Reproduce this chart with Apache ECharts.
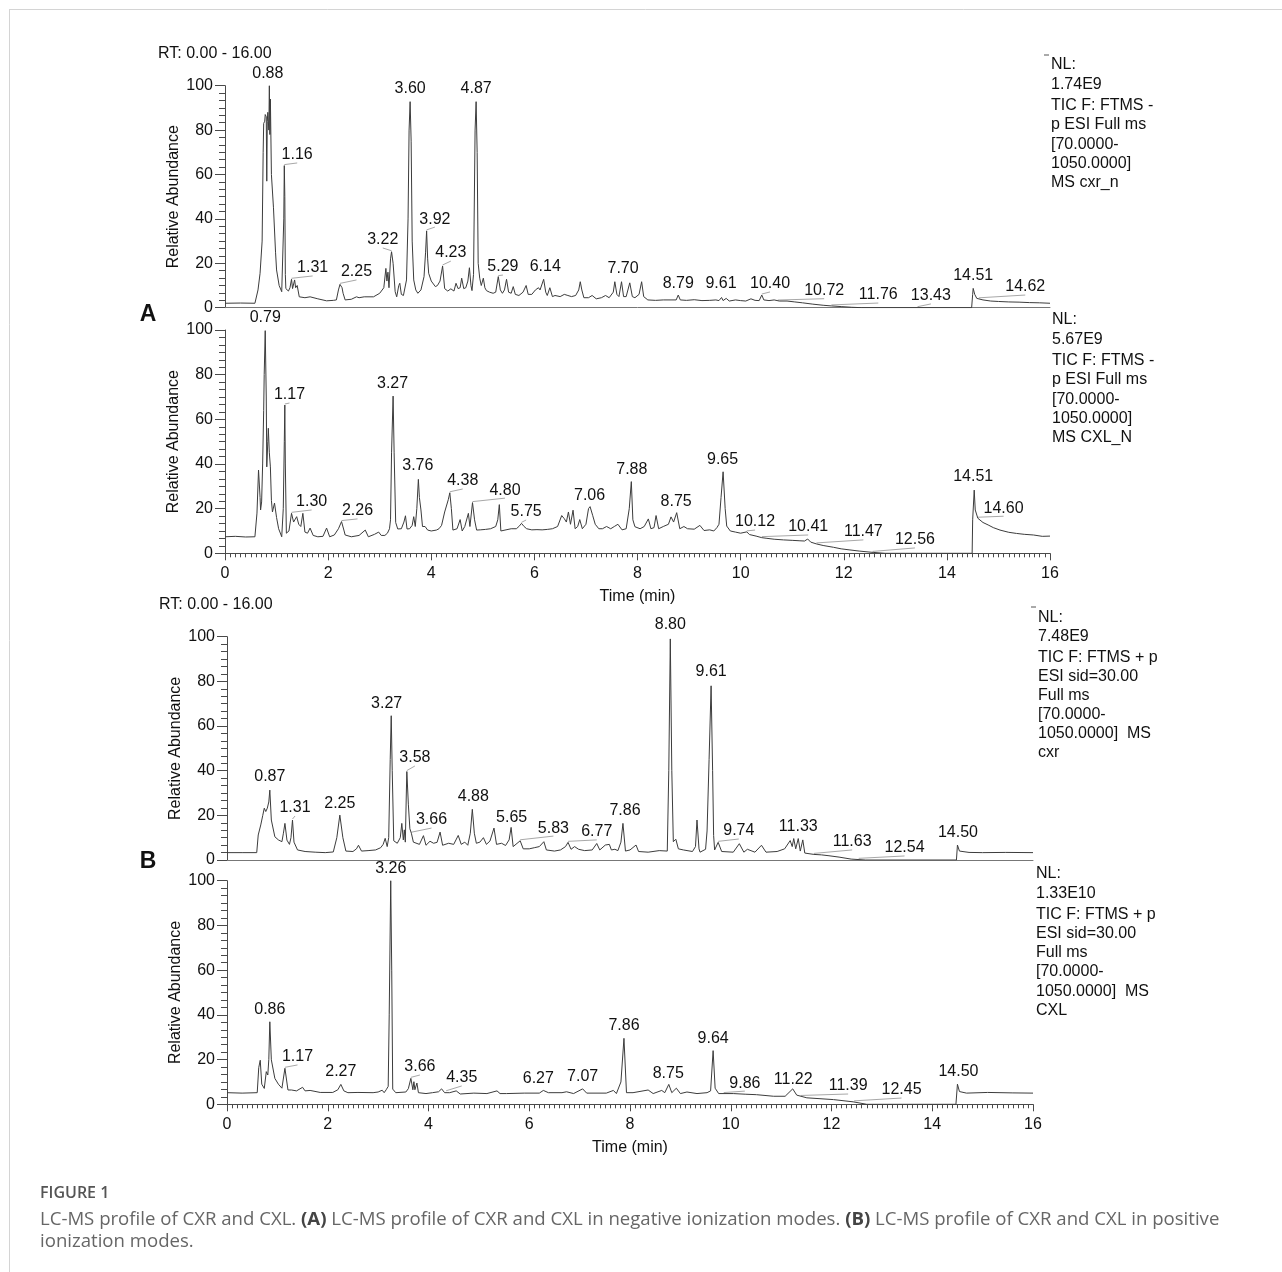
<!DOCTYPE html>
<html><head><meta charset="utf-8">
<script src="https://cdn.jsdelivr.net/npm/echarts@6/dist/echarts.min.js"></script>
<style>html,body{margin:0;padding:0;background:#fff}#c{width:1282px;height:1272px}</style>
</head><body><div id="c"></div>
<script>
// ---------------- DATA ----------------
// Chromatogram traces: [time (min), relative abundance]
const traceA1 = [[0,2],[0.3,2.1],[0.58,2],[0.64,8],[0.68,15.5],[0.72,30],[0.74,70],[0.75,83],[0.77,84],[0.78,87],[0.80,86],[0.81,57],[0.82,84],[0.83,88],[0.85,80],[0.86,100],[0.87,78],[0.88,94],[0.90,60],[0.94,45],[0.98,25],[1.00,17],[1.05,10],[1.10,7.2],[1.12,8],[1.14,40],[1.15,64],[1.16,50],[1.17,15],[1.18,8.6],[1.23,7.5],[1.26,9],[1.29,12.8],[1.31,8.6],[1.35,12.5],[1.37,9],[1.40,10],[1.44,4.9],[1.55,4.5],[1.65,4.9],[1.80,4],[1.97,3.1],[2.10,3.3],[2.16,3.5],[2.20,8],[2.23,10.5],[2.27,9],[2.29,6.5],[2.33,3.5],[2.45,3.8],[2.55,4.9],[2.60,4.5],[2.70,4.9],[2.88,4.9],[3.00,6.5],[3.08,9],[3.12,17.7],[3.14,12],[3.16,16],[3.18,9],[3.21,22],[3.23,25.2],[3.26,20],[3.30,7.2],[3.33,4.9],[3.37,10],[3.39,11],[3.42,6],[3.46,5.5],[3.52,12.5],[3.55,40],[3.57,80],[3.59,92.8],[3.61,75],[3.63,30],[3.66,12.5],[3.70,8],[3.74,6.5],[3.80,8],[3.86,14],[3.89,25],[3.91,34.6],[3.93,22],[3.95,15.5],[3.98,14.7],[4.00,12],[4.03,12.8],[4.08,9.5],[4.12,10],[4.17,12],[4.22,18.8],[4.26,8.6],[4.32,7.5],[4.38,8.5],[4.44,7.5],[4.48,11],[4.52,8.6],[4.56,9],[4.59,13.3],[4.63,8.6],[4.67,9],[4.71,12],[4.74,18],[4.77,10],[4.79,7.7],[4.82,15],[4.85,80],[4.87,92.8],[4.89,70],[4.91,20],[4.94,13.3],[4.97,10],[5.01,13.3],[5.04,9],[5.07,7.7],[5.13,7],[5.20,6.5],[5.25,7],[5.30,14],[5.34,8],[5.38,6.5],[5.42,8],[5.46,12.8],[5.50,7],[5.55,6.5],[5.59,9.5],[5.63,6],[5.70,5.5],[5.78,7],[5.84,10],[5.88,6],[5.95,6],[6.02,8],[6.08,9],[6.11,8],[6.18,12.8],[6.22,7],[6.25,5.5],[6.30,9],[6.35,5],[6.40,5.5],[6.50,5],[6.58,6],[6.65,5.5],[6.72,5],[6.80,5.5],[6.86,8],[6.89,11.7],[6.92,8],[6.96,4.5],[7.05,4.5],[7.12,5.5],[7.20,4],[7.30,4.5],[7.38,5.5],[7.45,4.5],[7.53,7],[7.56,11.7],[7.60,6],[7.64,5],[7.69,11.7],[7.73,5],[7.78,5],[7.85,11.2],[7.90,5],[7.95,4.5],[8.03,6],[8.08,11.7],[8.12,5],[8.20,3.5],[8.35,3.3],[8.50,3.5],[8.65,3.5],[8.75,3.5],[8.79,5.7],[8.83,3.5],[8.95,3.3],[9.10,3.6],[9.25,3.2],[9.40,3.3],[9.52,3.5],[9.58,3.2],[9.63,4.6],[9.66,3.2],[9.72,4.2],[9.78,3],[9.90,3.5],[10.00,3.2],[10.10,3],[10.20,4],[10.28,3.3],[10.36,3.2],[10.41,5.7],[10.45,3.5],[10.55,3.2],[10.65,3.5],[10.75,3.0],[10.90,3.0],[11.05,2.6],[11.20,2.2],[11.40,1.6],[11.60,1.1],[11.76,0.8],[11.95,0.5],[12.15,0.2],[12.35,0],[14.48,0],[14.50,6],[14.51,8.7],[14.54,6],[14.58,4.2],[14.70,3.5],[14.85,3.0],[15.00,2.8],[15.20,2.6],[15.40,2.5],[15.60,2.3],[15.80,2.2],[16.00,2.0]];

const traceA2 = [[0,7.4],[0.2,7.6],[0.4,7.3],[0.58,7.4],[0.62,18],[0.65,37.3],[0.68,25],[0.69,19.4],[0.71,23],[0.73,40],[0.75,64],[0.76,80],[0.78,99.7],[0.80,70],[0.81,38.7],[0.83,50],[0.84,56],[0.86,45],[0.88,38.7],[0.90,23.7],[0.92,18.5],[0.96,22.5],[1.00,16],[1.04,11],[1.10,7.4],[1.13,20],[1.15,50],[1.16,66.4],[1.17,40],[1.19,9],[1.24,10],[1.29,17.9],[1.33,14],[1.39,16.4],[1.43,13],[1.47,12],[1.51,17.9],[1.55,9.5],[1.60,9],[1.65,11.3],[1.71,8],[1.80,7.4],[1.90,7.6],[1.97,11.3],[2.03,7.4],[2.12,8.2],[2.20,11],[2.26,14.2],[2.31,10],[2.33,8.2],[2.45,7.4],[2.60,8],[2.72,10.4],[2.78,7.4],[2.90,8.5],[2.98,9.5],[3.03,8],[3.10,8],[3.15,9],[3.19,11],[3.21,15],[3.23,45],[3.26,70.4],[3.28,45],[3.31,13.8],[3.35,10.9],[3.42,11],[3.47,14],[3.50,16.8],[3.53,10.9],[3.58,11],[3.63,12.5],[3.66,16.4],[3.69,12],[3.72,20],[3.75,33.1],[3.77,25],[3.80,19.4],[3.83,12],[3.88,12],[3.93,10.4],[4.00,10],[4.10,10.4],[4.15,11],[4.20,12.5],[4.26,18.5],[4.33,24],[4.36,27.1],[4.39,20],[4.42,10.4],[4.50,11],[4.56,15.1],[4.60,10],[4.65,12],[4.72,17.9],[4.75,12],[4.80,22.7],[4.84,15],[4.88,10.4],[4.95,10.5],[5.05,10.7],[5.15,11],[5.25,12],[5.29,15],[5.32,21.8],[5.35,10],[5.45,10.5],[5.55,11],[5.65,11],[5.70,12],[5.75,13.4],[5.80,12],[5.85,11],[5.95,10.5],[6.05,10.6],[6.15,10.5],[6.25,10.7],[6.35,11],[6.45,12],[6.53,16.9],[6.58,15.5],[6.62,14],[6.66,18.5],[6.70,13],[6.75,19.3],[6.79,11],[6.84,12],[6.88,15.1],[6.93,11],[7.00,13],[7.05,20],[7.08,20.9],[7.13,17],[7.18,13],[7.25,11],[7.32,11],[7.40,12],[7.48,11],[7.55,12],[7.62,13],[7.70,10.5],[7.78,11],[7.84,20],[7.88,32.1],[7.91,15],[7.95,11.9],[8.05,11],[8.13,12],[8.21,15.4],[8.26,11],[8.32,11.5],[8.36,16.9],[8.41,11],[8.50,12],[8.60,13],[8.65,16.3],[8.70,14],[8.76,18.2],[8.82,11],[8.90,12],[8.97,11],[9.10,10.8],[9.21,12.5],[9.29,10.2],[9.40,10.5],[9.48,10],[9.54,11.5],[9.58,13],[9.62,25],[9.66,36.5],[9.70,20],[9.73,12.2],[9.80,10],[9.90,9.5],[10.00,9],[10.12,9.6],[10.17,8.4],[10.30,7.7],[10.41,7.0],[10.51,6.7],[10.65,6.3],[10.83,6.0],[11.00,5.8],[11.15,5.6],[11.24,5.5],[11.30,6.4],[11.36,5.0],[11.47,4.2],[11.60,3.5],[11.80,2.7],[11.95,2.0],[12.12,1.5],[12.30,1.0],[12.57,0.4],[12.80,0],[14.49,0],[14.50,15],[14.53,28.3],[14.55,19.4],[14.60,15.7],[14.70,13.8],[14.80,12.7],[14.90,11.5],[15.03,10.4],[15.20,9.4],[15.35,8.9],[15.50,8.5],[15.68,8.2],[15.85,7.6],[16.00,7.7]];

const traceB1 = [[0,3.3],[0.3,3.3],[0.59,3.3],[0.62,11.2],[0.67,15.7],[0.71,20],[0.74,23.2],[0.77,21.7],[0.80,23.2],[0.83,26],[0.85,31.3],[0.88,17.9],[0.95,10.4],[1.02,9],[1.09,8.2],[1.12,12],[1.15,16.4],[1.19,8.9],[1.24,7],[1.27,10],[1.30,17.9],[1.33,8],[1.40,4.5],[1.55,3.8],[1.75,3.5],[1.95,3.3],[2.11,3.6],[2.18,10],[2.24,20.1],[2.30,10],[2.36,4],[2.50,3.8],[2.57,5],[2.61,6.6],[2.67,4],[2.80,4.2],[2.95,4.5],[3.05,5.5],[3.10,7],[3.14,9.7],[3.18,6],[3.21,10],[3.24,45],[3.26,64.6],[3.28,40],[3.31,8.6],[3.38,7.5],[3.44,10],[3.47,16.4],[3.50,9],[3.52,13.5],[3.54,8],[3.56,30],[3.57,39.6],[3.60,25],[3.63,14],[3.66,12],[3.70,8],[3.73,7.9],[3.82,7],[3.90,10.9],[3.95,6.6],[4.03,8.4],[4.10,7.5],[4.17,7.9],[4.23,12.5],[4.28,6.6],[4.40,7.5],[4.50,7],[4.59,11],[4.65,7],[4.72,8],[4.78,6.6],[4.83,12],[4.87,22.7],[4.91,12],[4.95,7.5],[5.02,8],[5.09,10],[5.15,7],[5.22,8.5],[5.30,14.3],[5.35,7],[5.45,7.5],[5.53,6.5],[5.60,9],[5.64,14.6],[5.68,6],[5.82,8.6],[5.88,5],[6.00,5],[6.10,5.5],[6.20,6],[6.29,8.2],[6.34,4.5],[6.50,4],[6.62,4.5],[6.72,6],[6.77,7.9],[6.83,4.8],[6.90,6],[6.98,4.8],[7.10,4.2],[7.25,4.5],[7.34,7.4],[7.40,4.5],[7.51,6.7],[7.59,7],[7.63,4.5],[7.70,4.8],[7.76,4.2],[7.82,8],[7.86,16.4],[7.91,4],[8.00,4.5],[8.12,6.7],[8.17,3.8],[8.36,3.5],[8.58,4.2],[8.74,4],[8.77,40],[8.80,99],[8.83,40],[8.86,8.2],[8.91,9.3],[8.96,5],[9.06,4.5],[9.24,3.8],[9.30,6],[9.33,17.9],[9.37,5],[9.39,3.5],[9.50,4.8],[9.53,13],[9.57,45],[9.61,78],[9.64,40],[9.66,11],[9.68,4.5],[9.75,7.9],[9.82,3.8],[10.05,3.5],[10.17,7.3],[10.26,3.5],[10.33,4.8],[10.48,3.5],[10.61,6.6],[10.70,3.5],[10.92,3.8],[11.07,5],[11.18,8.7],[11.22,6],[11.25,9.6],[11.29,5],[11.34,9.6],[11.38,4],[11.43,9],[11.47,3.1],[11.65,2.5],[11.80,2.3],[11.95,1.9],[12.15,1.3],[12.39,0.4],[12.68,0],[14.48,0],[14.50,6.7],[14.54,4],[14.73,3.4],[15.00,3.3],[15.46,3.4],[16.00,3.3]];

const traceB2 = [[0,5.2],[0.3,5],[0.60,5.2],[0.63,16.4],[0.66,19.7],[0.69,9],[0.74,7.1],[0.78,14.6],[0.81,13.1],[0.83,20],[0.85,36.9],[0.88,19.9],[0.95,11.6],[1.02,9],[1.09,7.2],[1.15,16.1],[1.21,6.4],[1.28,6.4],[1.38,6],[1.50,7.6],[1.55,6],[1.65,6.2],[1.85,5.3],[2.10,5.3],[2.20,6.5],[2.26,8.9],[2.32,6],[2.40,5.2],[2.60,5.3],[2.90,5.2],[3.00,5.5],[3.08,6.3],[3.12,5.2],[3.16,6.5],[3.20,8],[3.22,40],[3.25,100],[3.27,60],[3.29,6.8],[3.35,5.2],[3.55,5.5],[3.60,7],[3.65,11.6],[3.69,6.5],[3.71,10.1],[3.73,6.5],[3.77,9.5],[3.80,5.2],[3.95,4.8],[4.08,5.2],[4.20,5.6],[4.26,6.9],[4.32,5.2],[4.42,5.2],[4.55,6],[4.63,4.6],[4.90,5],[5.16,4.8],[5.36,6],[5.42,4.8],[5.55,4.8],[5.90,5],[6.20,5],[6.28,6.2],[6.38,5.2],[6.65,5.2],[6.74,5.6],[6.88,4.8],[7.06,6.9],[7.14,5],[7.53,5],[7.67,6.2],[7.73,4.8],[7.82,10],[7.88,29.5],[7.93,5.2],[8.06,5.2],[8.36,6.4],[8.46,4.8],[8.63,6.2],[8.69,5.2],[8.77,8.9],[8.83,5.2],[8.92,7.2],[9.00,4.8],[9.13,5.5],[9.33,4.8],[9.53,5.2],[9.60,6],[9.65,24],[9.69,7.2],[9.76,4.8],[10.05,4.8],[10.30,4.5],[10.51,4.3],[10.85,3.6],[11.08,3.6],[11.23,6.9],[11.31,4.1],[11.51,2.9],[12.04,2.1],[12.43,1.1],[12.70,0],[14.47,0],[14.50,9],[14.54,5.7],[14.68,5],[15.10,5.3],[15.60,5.1],[16.00,5]];

// Peak annotations: [peak time, peak abundance, label time, label abundance, text, leader line]
const peaksA1 = [[0.86,100,0.83,101.7,'0.88',0],[1.15,64,1.40,65.2,'1.16',1],[1.29,12.8,1.70,14.3,'1.31',1],[2.23,10.5,2.55,12.5,'2.25',1],[3.23,25.2,3.06,26.9,'3.22',1],[3.59,92.8,3.59,95.3,'3.60',0],[3.91,34.6,4.07,36.3,'3.92',1],[4.22,18.8,4.38,21,'4.23',1],[4.87,92.8,4.87,95.3,'4.87',0],[5.30,14,5.39,14.7,'5.29',1],[6.18,12.8,6.21,14.7,'6.14',0],[7.69,11.7,7.72,13.8,'7.70',0],[8.79,5.7,8.79,7.1,'8.79',0],[9.63,4.6,9.62,7.1,'9.61',0],[10.41,5.7,10.57,7.1,'10.40',1],[10.72,3.0,11.62,4.05,'10.72',1],[11.76,0.8,12.67,2.1,'11.76',1],[13.43,0,13.69,1.7,'13.43',1],[14.51,8.7,14.51,10.7,'14.51',0],[14.62,4.0,15.52,5.7,'14.62',1]];
const peaksA2 = [[0.78,99.7,0.78,102,'0.79',0],[1.16,66.4,1.25,67.3,'1.17',1],[1.29,17.9,1.68,19.4,'1.30',1],[2.26,14.2,2.57,15.4,'2.26',1],[3.26,70.4,3.25,72.2,'3.27',0],[3.75,33.1,3.74,35.5,'3.76',0],[4.36,27.1,4.61,28.8,'4.38',1],[4.80,22.7,5.43,24.7,'4.80',1],[5.75,13.4,5.84,14.9,'5.75',1],[7.08,20.9,7.07,22.1,'7.06',0],[7.88,32.1,7.89,33.7,'7.88',0],[8.76,18.2,8.75,19.4,'8.75',0],[9.66,36.5,9.65,38.6,'9.65',0],[10.12,9.6,10.28,10.4,'10.12',1],[10.41,7.0,11.31,8.2,'10.41',1],[11.47,4.2,12.38,6.0,'11.47',1],[12.56,0.4,13.38,2.4,'12.56',1],[14.53,28.3,14.51,30.6,'14.51',0],[14.60,15.7,15.1,16.6,'14.60',1]];
const peaksB1 = [[0.85,31.3,0.85,33.6,'0.87',0],[1.30,17.9,1.35,19.7,'1.31',1],[2.24,20.1,2.24,21.9,'2.25',0],[3.26,64.6,3.17,66.3,'3.27',0],[3.57,39.6,3.73,42.1,'3.58',1],[3.66,12,4.06,14.3,'3.66',1],[4.87,22.7,4.89,24.6,'4.88',0],[5.64,14.6,5.65,15.5,'5.65',0],[5.82,8.6,6.48,10.7,'5.83',1],[6.77,7.9,7.34,9.0,'6.77',1],[7.86,16.4,7.90,18.4,'7.86',0],[8.80,99,8.80,101.7,'8.80',0],[9.61,78,9.61,80.6,'9.61',0],[9.75,7.9,10.16,9.4,'9.74',1],[11.34,9.6,11.34,11.2,'11.33',0],[11.65,2.5,12.41,4.5,'11.63',1],[12.54,0.3,13.45,1.8,'12.54',1],[14.50,6.7,14.51,8.5,'14.50',0]];
const peaksB2 = [[0.85,36.9,0.85,39.0,'0.86',0],[1.15,16.1,1.40,17.6,'1.17',1],[2.26,8.9,2.26,10.9,'2.27',0],[3.25,100,3.25,101.7,'3.26',0],[3.65,11.6,3.83,13.1,'3.66',1],[4.35,5.6,4.66,8.2,'4.35',1],[6.28,6.2,6.18,7.7,'6.27',0],[7.06,6.9,7.06,8.6,'7.07',0],[7.88,29.5,7.88,31.4,'7.86',0],[8.77,8.9,8.76,10,'8.75',0],[9.65,24,9.65,25.6,'9.64',0],[9.86,4.8,10.28,5.9,'9.86',1],[11.23,6.9,11.24,7.5,'11.22',0],[11.39,3.5,12.33,4.6,'11.39',1],[12.45,1.1,13.39,2.8,'12.45',1],[14.50,9,14.52,10.9,'14.50',0]];

// Instrument info text blocks
const infoA1 = ['NL:','1.74E9','TIC F: FTMS -','p ESI Full ms','[70.0000-','1050.0000]','MS cxr_n'];
const infoA2 = ['NL:','5.67E9','TIC F: FTMS -','p ESI Full ms','[70.0000-','1050.0000]','MS CXL_N'];
const infoB1 = ['NL:','7.48E9','TIC F: FTMS + p','ESI sid=30.00','Full ms','[70.0000-','1050.0000]  MS','cxr'];
const infoB2 = ['NL:','1.33E10','TIC F: FTMS + p','ESI sid=30.00','Full ms','[70.0000-','1050.0000]  MS','CXL'];

const rtRange = 'RT: 0.00 - 16.00';
const xTitle = 'Time (min)';
const yTitle = 'Relative Abundance';
const captionTitle = 'FIGURE 1';
const captionLine1 = 'LC-MS profile of CXR and CXL. {b|(A)} LC-MS profile of CXR and CXL in negative ionization modes. {b|(B)} LC-MS profile of CXR and CXL in positive';
const captionLine2 = 'ionization modes.';

// ---------------- CHART ----------------
const FONT = '"Liberation Sans", Arial, sans-serif';
const CAP_FONT = '"Open Sans", sans-serif';
const chart = echarts.init(document.getElementById('c'), null, {renderer: 'canvas'});

const grids = [
  {left: 225, top: 85.7, width: 825, height: 222},
  {left: 225, top: 330, width: 825, height: 223.3},
  {left: 227, top: 636.7, width: 806, height: 223.3},
  {left: 227, top: 880.7, width: 806, height: 223.6}
];
const axisCol = '#4a4a4a';
const xAxes = grids.map((g, i) => {
  const labelled = (i === 1 || i === 3);
  return {
    type: 'value', gridIndex: i, min: 0, max: 16, interval: 2,
    axisLine: {show: true, lineStyle: {color: labelled ? axisCol : '#777', width: 1}},
    axisTick: {show: labelled, length: 7, lineStyle: {color: axisCol}},
    minorTick: {show: labelled, splitNumber: 20, length: 4, lineStyle: {color: axisCol}},
    axisLabel: {show: labelled, fontSize: 16, color: '#111', fontFamily: FONT, margin: 12},
    splitLine: {show: false},
    name: labelled ? xTitle : '', nameLocation: 'middle', nameGap: 35, nameMoveOverlap: false,
    nameTextStyle: {fontSize: 16, color: '#111', fontFamily: FONT}
  };
});
const yAxes = grids.map((g, i) => ({
  type: 'value', gridIndex: i, min: 0, max: 100, interval: 20,
  axisLine: {show: true, lineStyle: {color: axisCol, width: 1}},
  axisTick: {show: true, length: 10, lineStyle: {color: axisCol}},
  minorTick: {show: true, splitNumber: 6, length: 6, lineStyle: {color: axisCol}},
  axisLabel: {fontSize: 16, color: '#111', fontFamily: FONT, margin: 12},
  splitLine: {show: false},
  name: yTitle, nameLocation: 'middle', nameGap: 43, nameMoveOverlap: false,
  nameTextStyle: {fontSize: 16, color: '#111', fontFamily: FONT}
}));

const traces = [traceA1, traceA2, traceB1, traceB2];
const peaks = [peaksA1, peaksA2, peaksB1, peaksB2];
const series = [];
traces.forEach((d, i) => {
  series.push({
    type: 'line', xAxisIndex: i, yAxisIndex: i, data: d, showSymbol: false, symbol: 'none',
    lineStyle: {color: '#3c3c3c', width: 1}, animation: false, silent: true
  });
});
peaks.forEach((arr, i) => {
  series.push({
    type: 'custom', xAxisIndex: i, yAxisIndex: i, clip: false, animation: false, silent: true,
    data: arr.map(r => [r[0], r[1], r[2], r[3]]),
    encode: {x: [0, 2], y: [1, 3]},
    renderItem: function (params, api) {
      const r = arr[params.dataIndex];
      const p = api.coord([r[0], r[1]]);
      const l = api.coord([r[2], r[3]]);
      const children = [];
      if (r[5]) {
        children.push({type: 'line', shape: {x1: p[0], y1: p[1] - 1, x2: l[0], y2: l[1]},
          style: {stroke: '#a8a8a8', lineWidth: 1}});
      }
      children.push({type: 'text', x: l[0], y: l[1],
        style: {text: r[4], align: 'center', verticalAlign: 'bottom', fontSize: 16,
                fontFamily: FONT, fill: '#111'}});
      return {type: 'group', children: children};
    }
  });
});

const graphics = [];
function addInfo(lines, x, y0, step) {
  lines.forEach((t, k) => {
    graphics.push({type: 'text', x: x, y: y0 + k * step + (k >= 2 ? 2 : 0),
      style: {text: t, fontSize: 16, fontFamily: FONT, fill: '#111', align: 'left', verticalAlign: 'middle'}});
  });
}
addInfo(infoA1, 1051, 65, 19.3);
addInfo(infoA2, 1052, 320, 19.3);
addInfo(infoB1, 1038, 618, 19);
addInfo(infoB2, 1036, 874, 19.2);
// small marks near info blocks
graphics.push({type: 'line', shape: {x1: 1044, y1: 55, x2: 1049, y2: 55}, style: {stroke: '#555', lineWidth: 1}});
graphics.push({type: 'line', shape: {x1: 1031, y1: 607, x2: 1036, y2: 607}, style: {stroke: '#555', lineWidth: 1}});
// RT texts
graphics.push({type: 'text', x: 158, y: 54, style: {text: rtRange, fontSize: 16, fontFamily: FONT, fill: '#111', verticalAlign: 'middle'}});
graphics.push({type: 'text', x: 159, y: 605, style: {text: rtRange, fontSize: 16, fontFamily: FONT, fill: '#111', verticalAlign: 'middle'}});
// Panel letters
graphics.push({type: 'text', x: 148, y: 315, style: {text: 'A', fontSize: 23, fontWeight: 'bold', fontFamily: FONT, fill: '#111', align: 'center', verticalAlign: 'middle'}});
graphics.push({type: 'text', x: 148, y: 862, style: {text: 'B', fontSize: 23, fontWeight: 'bold', fontFamily: FONT, fill: '#111', align: 'center', verticalAlign: 'middle'}});
// Caption
graphics.push({type: 'text', x: 40, y: 1193, style: {text: captionTitle, fontSize: 16, fontWeight: 600, fontFamily: CAP_FONT, fill: '#555', verticalAlign: 'middle'}});
graphics.push({type: 'text', x: 40, y: 1220, style: {text: captionLine1, fontSize: 18.6, fontFamily: CAP_FONT, fill: '#666', verticalAlign: 'middle',
  rich: {b: {fontWeight: 'bold', fontSize: 18.6, fontFamily: CAP_FONT, fill: '#444'}}}});
graphics.push({type: 'text', x: 40, y: 1242, style: {text: captionLine2, fontSize: 18.6, fontFamily: CAP_FONT, fill: '#666', verticalAlign: 'middle'}});
// Border
graphics.push({type: 'line', shape: {x1: 9, y1: 9.5, x2: 1282, y2: 9.5}, style: {stroke: '#d4d4d4', lineWidth: 1}});
graphics.push({type: 'line', shape: {x1: 9.5, y1: 9, x2: 9.5, y2: 1272}, style: {stroke: '#d4d4d4', lineWidth: 1}});

chart.setOption({
  animation: false,
  backgroundColor: '#fff',
  grid: grids,
  xAxis: xAxes,
  yAxis: yAxes,
  series: series,
  graphic: graphics
});
</script>
</body></html>
